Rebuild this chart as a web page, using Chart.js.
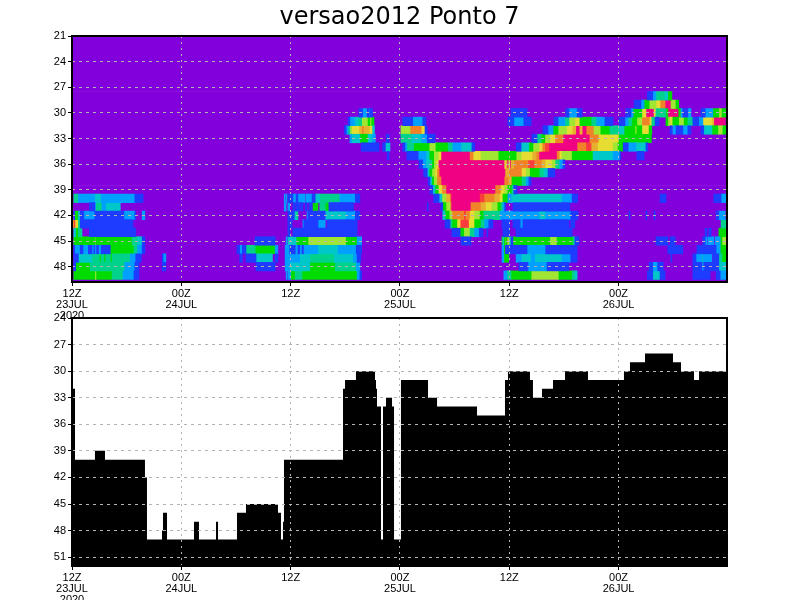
<!DOCTYPE html>
<html><head><meta charset="utf-8">
<script src="https://cdn.jsdelivr.net/npm/chart.js@4"></script>
<style>
html,body{margin:0;padding:0;background:#fff}
canvas{position:absolute;left:0;top:0}
</style></head><body>
<canvas id="c1" width="800" height="600"></canvas>
<canvas id="c2" width="800" height="600"></canvas>
<script>
const titleText = "versao2012 Ponto 7";
// hours since 12Z 23JUL 2020
const timeEnd = 71.9;
const timeTicks = {0:["12Z","23JUL","2020"],12:["00Z","24JUL"],24:["12Z"],36:["00Z","25JUL"],48:["12Z"],60:["00Z","26JUL"]};
// contour colours, lowest to highest class
const classColors = ["#8200dc","#1e3cff","#00a0ff","#00c8c8","#00d28c","#00dc00","#a0e632","#e6dc32","#e6af2d","#f08228","#fa3c3c","#f00082"];
// each cell run: [start hour, end hour, colour class]; row number = level
const row28=[[63.15,63.75,1],[63.75,64.1,2],[64.1,65.1,4],[65.1,65.4,3],[65.4,65.85,5]];
const row29=[[61.7,62.45,1],[62.45,62.8,2],[62.8,63.35,5],[63.35,64.1,6],[64.1,64.55,7],[64.55,65.1,9],[65.1,65.75,11],[65.75,66.3,6],[66.3,66.6,5]];
const row30=[[31.5,31.9,1],[31.9,32.4,2],[32.4,32.6,1],[32.6,32.7,2],[32.7,33.0,1],[48.2,49.95,1],[54.2,54.55,1],[54.55,55.45,2],[55.45,56.0,1],[60.8,61.35,1],[61.35,61.6,2],[61.6,62.55,5],[62.55,63.0,7],[63.0,63.9,11],[63.9,64.1,7],[64.1,65.2,4],[65.2,65.4,5],[65.4,66.6,11],[66.6,66.85,5],[66.85,67.05,2],[67.05,67.6,1],[67.6,67.95,2],[69.05,69.5,1],[69.5,70.35,2],[70.35,71.0,5],[71.0,71.35,6],[71.35,71.9,5]];
const row31=[[30.3,30.5,1],[30.5,31.0,2],[31.0,31.4,3],[31.4,31.8,4],[31.8,32.5,6],[32.5,32.7,5],[32.7,32.9,6],[32.9,33.15,5],[36.3,37.4,1],[37.4,38.5,2],[38.5,38.85,1],[47.85,48.5,1],[48.5,49.6,2],[49.6,50.4,1],[52.9,53.35,1],[53.35,54.1,2],[54.1,54.55,4],[54.55,55.2,6],[55.2,55.75,7],[55.75,57.05,5],[57.05,57.6,4],[57.6,58.5,2],[58.5,59.4,1],[60.05,60.7,1],[60.7,61.05,2],[61.05,61.45,4],[61.45,62.0,5],[62.0,62.55,6],[62.55,63.45,9],[63.45,63.65,7],[63.65,64.0,4],[64.0,64.45,1],[65.2,65.4,5],[65.4,65.65,6],[65.65,65.95,7],[65.95,66.6,5],[66.6,67.2,6],[67.2,67.6,5],[67.6,68.15,4],[68.15,68.8,1],[68.8,69.25,2],[69.25,70.25,7],[70.25,70.45,8],[70.45,71.7,11]];
const row32=[[29.9,30.1,1],[30.1,30.3,2],[30.3,30.5,4],[30.5,30.7,6],[30.7,31.5,7],[31.5,31.8,8],[31.8,32.05,9],[32.05,32.7,8],[32.7,33.0,7],[33.0,33.2,3],[36.1,37.1,6],[37.1,38.4,9],[38.4,38.75,7],[38.75,39.0,1],[51.7,52.25,1],[52.25,52.8,2],[52.8,53.35,5],[53.35,54.3,6],[54.3,54.9,7],[54.9,55.3,8],[55.3,55.75,11],[55.75,56.0,8],[56.0,56.5,11],[56.5,57.3,9],[57.3,58.05,6],[58.05,59.05,5],[59.05,60.05,4],[60.05,60.6,3],[60.6,61.8,5],[61.8,62.0,6],[62.0,62.55,5],[62.55,63.35,7],[63.35,63.65,5],[65.65,65.85,1],[65.95,66.3,2],[66.3,67.05,1],[67.05,67.6,2],[67.6,67.95,1],[69.05,69.35,1],[69.35,70.25,3],[70.25,70.9,5],[70.9,71.45,6],[71.45,71.9,5]];
const row33=[[30.5,30.7,2],[30.7,31.6,3],[31.6,32.5,5],[32.5,33.0,3],[33.0,33.3,2],[34.5,34.8,1],[36.1,37.3,4],[37.3,38.4,3],[38.4,39.0,2],[39.0,39.85,1],[50.5,51.05,1],[51.05,51.5,4],[51.5,51.9,5],[51.9,52.45,6],[52.45,53.0,7],[53.0,53.9,9],[53.9,56.85,11],[56.85,57.85,9],[57.85,60.05,7],[60.05,63.6,5]];
const row34=[[31.75,33.7,1],[34.1,34.4,1],[34.4,34.9,3],[36.3,36.55,1],[36.55,36.75,2],[36.75,37.5,4],[37.5,39.2,5],[39.2,39.95,6],[39.95,41.3,5],[41.3,41.8,4],[41.8,42.7,2],[42.7,43.9,3],[43.9,44.2,1],[48.75,49.3,1],[49.3,50.15,3],[50.15,50.6,5],[50.6,51.25,6],[51.25,51.6,7],[51.6,51.9,9],[51.9,52.35,10],[52.35,55.5,11],[55.5,56.4,9],[56.4,57.05,10],[57.05,57.75,8],[57.75,59.4,7],[59.4,59.95,6],[59.95,60.5,5],[60.5,61.05,1],[61.05,61.9,2],[61.9,63.0,3],[63.0,63.2,1]];
const row35=[[34.6,34.8,1],[36.75,38.0,1],[38.0,38.85,2],[38.85,39.2,3],[39.2,39.7,5],[39.7,40.2,6],[40.2,40.5,7],[40.5,43.7,11],[43.7,44.1,9],[44.1,44.9,7],[44.9,46.85,6],[46.85,48.75,5],[48.75,49.3,6],[49.3,50.5,7],[50.5,50.95,8],[50.95,51.25,9],[51.25,53.25,11],[53.25,53.55,9],[53.55,53.8,7],[53.8,54.9,6],[54.9,57.2,5],[57.2,59.4,3],[59.4,60.15,2],[60.15,60.25,1],[62.0,62.8,1]];
const row36=[[38.1,38.5,1],[38.5,38.85,2],[38.85,39.2,3],[39.2,39.5,4],[39.5,39.7,5],[39.7,39.95,6],[39.95,40.2,7],[40.2,47.5,11],[47.5,47.6,7],[47.6,47.75,8],[47.75,47.95,11],[47.95,48.05,7],[48.05,48.2,11],[48.2,48.5,8],[48.5,50.05,9],[50.05,50.8,10],[50.8,51.6,9],[51.6,52.0,8],[52.0,52.7,7],[52.7,53.1,6],[53.1,53.55,4],[53.55,53.9,2],[53.9,54.1,1]];
const row37=[[38.6,39.0,1],[39.0,39.2,3],[39.2,39.5,5],[39.5,39.85,6],[39.85,40.05,7],[40.05,40.3,9],[40.3,47.6,11],[47.6,47.95,8],[47.95,49.4,9],[49.4,49.85,7],[49.85,50.3,6],[50.3,51.35,5],[51.35,51.8,4],[51.8,52.25,3],[52.25,53.0,1]];
const row38=[[39.1,39.3,1],[39.3,39.5,3],[39.5,39.7,5],[39.7,40.05,6],[40.05,40.5,9],[40.5,47.5,11],[47.5,47.95,9],[47.95,48.3,8],[48.3,49.4,5],[49.4,49.85,4],[49.85,50.15,2],[50.15,50.4,1]];
const row39=[[39.3,39.6,1],[39.6,39.85,3],[39.85,40.2,5],[40.2,40.6,7],[40.6,41.05,9],[41.05,46.5,11],[46.5,47.1,9],[47.1,47.5,7],[47.5,47.85,6],[47.85,48.3,5],[48.3,48.5,4],[48.5,48.85,1]];
const row40=[[0.2,0.7,4],[0.7,2.5,2],[2.5,3.2,3],[3.2,6.9,2],[6.9,7.8,1],[23.3,23.4,2],[23.5,23.6,2],[23.7,24.25,1],[24.25,24.6,2],[24.6,24.8,1],[24.8,25.6,2],[25.7,26.35,2],[26.35,26.7,1],[26.7,27.2,3],[27.2,29.4,4],[29.4,31.1,2],[31.1,31.6,1],[39.7,40.3,1],[40.3,40.6,3],[40.6,41.05,6],[41.05,41.5,8],[41.5,41.6,10],[41.6,44.8,11],[44.8,45.3,10],[45.3,46.4,9],[46.4,47.0,8],[47.0,47.3,7],[47.3,47.85,5],[47.85,48.2,2],[48.2,53.8,3],[53.8,54.9,2],[54.9,55.5,1],[64.55,65.2,1],[70.45,71.25,1],[71.25,71.8,2]];
const row41=[[1.9,2.1,1],[2.2,2.5,1],[2.5,2.6,2],[2.6,3.3,4],[3.3,3.7,2],[3.7,5.3,3],[23.3,23.5,2],[23.7,23.9,2],[24.25,24.5,1],[24.6,25.0,1],[25.1,25.35,1],[25.6,25.8,1],[26.0,26.35,1],[26.45,27.0,5],[27.2,27.8,4],[27.8,28.2,5],[28.2,30.9,1],[39.0,39.1,1],[40.5,40.7,1],[40.7,41.05,5],[41.05,41.5,6],[41.5,41.6,9],[41.6,43.8,11],[43.8,44.9,9],[44.9,45.45,8],[45.45,46.1,7],[46.1,46.75,6],[46.75,47.1,5],[47.1,47.3,4],[47.3,47.5,2],[47.5,47.6,1],[48.4,54.65,1]];
const row42=[[0.2,0.3,1],[0.3,0.7,5],[0.7,0.9,3],[0.9,1.3,1],[1.3,2.5,2],[2.5,5.7,1],[5.7,6.9,2],[6.9,7.0,1],[7.7,8.0,2],[23.7,24.4,1],[24.4,24.6,3],[24.6,24.8,4],[25.8,25.9,2],[25.9,27.8,1],[27.8,30.1,3],[30.1,31.1,2],[31.1,31.6,1],[40.7,40.95,3],[40.95,41.4,5],[41.4,41.7,6],[41.7,43.0,9],[43.0,43.25,10],[43.25,43.7,9],[43.7,44.2,7],[44.2,44.8,6],[44.8,45.2,5],[45.2,47.0,4],[47.0,51.25,2],[51.25,52.0,3],[52.0,54.75,2],[54.75,55.55,1],[61.15,61.25,1],[63.0,63.1,1],[63.9,64.0,1],[70.7,71.0,1],[71.0,71.7,2]];
const row43=[[0.1,0.2,9],[0.2,0.4,10],[0.4,0.7,7],[0.7,0.9,4],[0.9,6.7,1],[23.7,23.8,1],[23.9,24.15,1],[25.35,25.45,2],[25.45,27.0,1],[27.0,27.8,2],[28.0,31.3,1],[40.95,41.5,1],[41.5,41.7,4],[41.7,42.25,5],[42.25,42.6,7],[42.6,43.6,10],[43.6,44.2,7],[44.2,44.9,5],[44.9,45.3,4],[45.3,45.75,2],[45.75,46.2,1],[47.2,48.05,1],[48.4,49.2,1],[49.2,49.5,2],[49.5,54.55,1],[54.75,55.2,1],[71.25,71.9,4]];
const row44=[[0.2,0.4,3],[0.4,0.7,5],[0.7,1.1,4],[1.9,7.0,1],[23.7,23.9,1],[24.25,31.3,1],[41.7,42.6,1],[42.6,43.0,5],[43.0,43.7,6],[43.7,44.2,4],[44.2,44.7,2],[44.7,45.1,1],[45.55,45.65,1],[47.3,48.05,1],[48.75,54.9,1],[69.5,69.7,1],[69.9,70.15,1],[71.0,71.9,5]];
const row45=[[0.2,2.5,5],[2.5,2.6,6],[2.6,6.6,5],[6.6,7.2,4],[7.2,7.7,3],[7.7,8.0,1],[20.1,22.3,1],[23.5,23.6,2],[23.7,24.6,3],[24.6,25.9,5],[25.9,30.1,6],[30.1,31.3,5],[31.3,31.8,2],[42.7,43.8,1],[47.2,47.3,5],[47.3,47.4,3],[47.4,47.5,5],[47.5,47.6,7],[47.6,47.75,5],[47.75,47.85,9],[47.85,48.05,6],[48.05,48.2,3],[48.2,48.4,1],[48.4,52.45,5],[52.45,53.25,6],[53.25,55.0,5],[55.0,55.2,4],[55.2,55.65,1],[64.1,65.4,1],[65.65,66.2,1],[69.25,69.5,1],[69.5,69.7,2],[69.8,70.45,2],[70.6,71.15,2],[71.15,71.35,5],[71.35,71.9,6]];
const row46=[[0.2,0.3,1],[0.3,0.9,2],[0.9,1.2,1],[1.2,1.8,2],[1.8,2.2,1],[2.2,2.4,2],[2.4,2.5,1],[2.5,2.7,2],[2.7,2.9,1],[2.9,3.2,2],[3.2,4.2,1],[4.2,6.8,5],[6.8,7.2,4],[7.2,7.7,2],[7.7,8.0,1],[18.1,18.4,1],[18.4,18.7,2],[18.7,19.1,1],[19.1,20.1,4],[20.1,22.3,5],[22.3,22.6,2],[23.4,23.9,2],[23.9,24.5,1],[24.5,24.8,2],[24.8,25.0,1],[25.0,25.25,2],[25.25,25.4,1],[25.4,27.0,2],[27.0,29.2,3],[29.2,31.2,2],[31.2,31.8,1],[47.2,47.4,2],[47.4,47.5,5],[47.6,49.95,1],[49.95,52.0,2],[52.0,55.45,1],[65.4,67.05,1],[68.6,70.7,1],[70.7,71.15,2],[71.15,71.9,5]];
const row47=[[0.2,0.7,1],[0.7,2.2,3],[2.2,3.0,4],[3.0,3.2,5],[3.2,3.5,4],[3.5,3.7,5],[3.7,4.2,4],[4.2,4.4,5],[4.4,6.4,4],[6.4,7.0,2],[7.0,7.6,1],[9.9,10.0,1],[10.0,10.3,2],[18.4,18.7,1],[19.1,20.2,1],[20.2,22.0,3],[22.3,22.6,1],[23.4,25.0,2],[25.0,26.1,3],[26.1,28.8,4],[28.8,30.9,3],[30.9,31.3,2],[31.3,31.7,1],[47.2,47.4,2],[47.4,47.95,5],[48.75,49.3,2],[49.3,50.4,3],[50.4,50.8,2],[50.8,53.8,3],[53.8,54.75,2],[54.75,55.45,1],[65.75,65.85,1],[68.15,68.5,1],[68.5,69.15,2],[69.15,69.25,4],[69.25,70.25,2],[70.35,71.0,1],[71.0,71.35,4],[71.35,71.9,5]];
const row48=[[0.2,0.4,1],[0.4,2.0,5],[2.0,5.8,4],[5.8,6.9,2],[6.9,7.35,1],[9.9,10.3,1],[20.2,22.3,1],[23.4,23.9,2],[23.9,26.1,3],[26.1,28.9,5],[28.9,31.2,4],[31.2,31.6,2],[49.05,50.05,1],[50.05,52.15,2],[52.15,54.55,1],[63.35,63.75,1],[63.75,64.3,2],[64.3,64.9,1],[68.15,69.15,1],[69.15,69.35,2],[69.35,71.0,1],[71.0,71.9,3]];
const row49=[[0.2,2.5,5],[2.5,2.7,6],[2.7,4.4,5],[4.4,5.6,4],[5.6,6.8,2],[6.8,7.35,1],[23.5,23.6,2],[23.7,24.0,2],[24.0,24.5,5],[24.5,25.25,4],[25.25,31.3,5],[31.3,31.6,2],[31.6,31.8,1],[47.4,47.75,2],[47.75,48.2,4],[48.2,50.4,5],[50.4,53.45,6],[53.45,54.9,5],[54.9,55.2,4],[55.2,55.45,3],[63.15,63.75,1],[63.75,64.55,3],[64.55,65.1,1],[68.15,70.05,1],[70.7,71.15,1],[71.15,71.9,2]];
const heatRows={28:row28,29:row29,30:row30,31:row31,32:row32,33:row33,34:row34,35:row35,36:row36,37:row37,38:row38,39:row39,40:row40,41:row41,42:row42,43:row43,44:row44,45:row45,46:row46,47:row47,48:row48,49:row49};
const allLevels=[21,22,23,24,25,26,27,28,29,30,31,32,33,34,35,36,37,38,39,40,41,42,43,44,45,46,47,48,49,50];
// lower panel: step start hour and the level held from that hour
const stepHours=[0,0.33,2.52,3.62,8.01,8.23,9.88,9.99,10.43,13.39,13.94,15.81,16.03,18.11,19.1,22.61,22.94,23.16,23.27,29.75,29.97,31.17,33.26,33.37,33.48,33.92,34.14,34.47,35.13,35.35,36.11,39.08,40.07,44.46,47.53,47.86,50.27,50.6,51.59,52.8,54.12,56.64,60.59,61.25,62.9,65.97,66.85,68.28,68.83,71.9];
const stepLevels=[32,40,39,40,42,49,48,46,49,47,49,47,49,46,45,46,49,47,40,32,31,30,31,32,34,49,34,33,34,49,31,33,34,35,31,30,31,33,32,31,30,31,30,29,28,29,30,31,30,30];

const labelFont={family:"'Liberation Sans',sans-serif",size:11,lineHeight:1};
const frame={id:'frame',afterDraw(c){const a=c.chartArea,x=c.ctx;x.save();x.strokeStyle='#000';x.lineWidth=2;x.strokeRect(a.left,a.top,a.right-a.left,a.bottom-a.top);x.restore();}};
function xAxis(h){return{type:'linear',min:0,max:timeEnd,afterFit(s){s.height=h;},border:{display:false,dash:[2,4]},
  afterBuildTicks(s){s.ticks=Object.keys(timeTicks).map(v=>({value:+v}));},
  grid:{z:1,color:'#b4b4b4',tickBorderDash:[],tickColor:'#000',tickLength:4},
  ticks:{stepSize:12,includeBounds:false,autoSkip:false,maxRotation:0,padding:2,color:'#000',font:labelFont,callback:v=>timeTicks[v]}};}
function yAxis(min,max){return{type:'linear',reverse:true,min,max,offset:false,afterFit(s){s.width=72;},border:{display:false,dash:[3,4]},
  grid:{z:1,offset:false,color:'#b4b4b4',tickBorderDash:[],tickColor:'#000',tickLength:4},
  ticks:{stepSize:3,includeBounds:false,autoSkip:false,padding:2,color:'#000',font:labelFont}};}
const base={responsive:false,animation:false,events:[],plugins:{legend:{display:false},tooltip:{enabled:false}}};

const heatData=classColors.map(()=>[]);
allLevels.forEach(l=>heatData[0].push({x:[0,timeEnd],y:l}));
Object.keys(heatRows).forEach(l=>heatRows[l].forEach(([a,b,c])=>heatData[c].push({x:[a,b],y:+l})));
const heatSets=classColors.map((col,i)=>({data:heatData[i],backgroundColor:col,borderWidth:0,order:i===0?1:0,grouped:false,barPercentage:1,categoryPercentage:1}));

new Chart(document.getElementById('c1'),{type:'bar',data:{datasets:heatSets},plugins:[frame],options:{...base,indexAxis:'y',
  layout:{autoPadding:false,padding:{left:0,right:73,top:0,bottom:282}},
  plugins:{...base.plugins,title:{display:true,fullSize:false,text:titleText,color:'#000',font:{family:"'DejaVu Sans',sans-serif",size:24,weight:'normal',lineHeight:1.2},padding:{top:3,bottom:4.2}}},
  scales:{x:xAxis(36),y:yAxis(21,49.8)}}});

new Chart(document.getElementById('c2'),{type:'line',data:{datasets:[{data:stepHours.map((h,i)=>({x:h,y:stepLevels[i]})),stepped:'before',fill:'start',backgroundColor:'#000',borderColor:'#000',borderWidth:0,pointRadius:0}]},plugins:[frame],options:{...base,
  layout:{autoPadding:false,padding:{left:0,right:73,top:318,bottom:0}},
  scales:{x:xAxis(34),y:yAxis(24,52)}}});
</script>
</body></html>
